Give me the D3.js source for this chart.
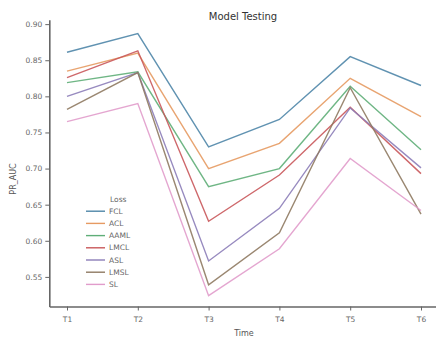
<!DOCTYPE html>
<html>
<head>
<meta charset="utf-8">
<script src="https://cdn.jsdelivr.net/npm/d3@7"></script>
<style>
  body { margin: 0; background: #fff; }
  svg { display: block; font-family: "DejaVu Sans", sans-serif; }
</style>
</head>
<body>
<div id="chart"></div>
<script>
// time points on the x axis
const times = ["T1", "T2", "T3", "T4", "T5", "T6"];
// loss names, in legend order
const losses = ["FCL", "ACL", "AAML", "LMCL", "ASL", "LMSL", "SL"];
// PR_AUC per loss, one value per time point
const FCL  = [0.861, 0.887, 0.730, 0.768, 0.855, 0.815];
const ACL  = [0.835, 0.860, 0.700, 0.735, 0.825, 0.772];
const AAML = [0.819, 0.834, 0.675, 0.700, 0.814, 0.726];
const LMCL = [0.826, 0.863, 0.627, 0.691, 0.785, 0.693];
const ASL  = [0.800, 0.833, 0.572, 0.645, 0.784, 0.701];
const LMSL = [0.782, 0.833, 0.539, 0.611, 0.812, 0.637];
const SL   = [0.765, 0.790, 0.524, 0.589, 0.714, 0.642];
const yTicks = [0.55, 0.60, 0.65, 0.70, 0.75, 0.80, 0.85, 0.90];

const seriesVals = [FCL, ACL, AAML, LMCL, ASL, LMSL, SL];
const colorList = ["#4f86a8", "#e69a62", "#5fae78", "#c9585b", "#8c7db8", "#8f7a62", "#e19ccb"];

const width = 436, height = 340;
const svg = d3.select("#chart").append("svg")
    .attr("width", width).attr("height", height);

const x = d3.scaleLinear().domain([-0.25, times.length - 0.75]).range([49.3, 438.7]);
const y = d3.scaleLinear().domain([0.509, 0.906]).range([306.5, 19.8]);
const color = d3.scaleOrdinal().domain(losses).range(colorList);

// axes
const axisX = svg.append("g")
    .attr("transform", `translate(0,${y.range()[0]})`)
    .call(d3.axisBottom(x).tickValues(d3.range(times.length))
        .tickFormat(i => times[i]).tickSize(4).tickSizeOuter(0));
const axisY = svg.append("g")
    .attr("transform", `translate(${x.range()[0]},0)`)
    .call(d3.axisLeft(y).tickValues(yTicks).tickFormat(d3.format(".2f"))
        .tickSize(4).tickSizeOuter(0));
[axisX, axisY].forEach(g => {
    g.select(".domain").attr("stroke", "#666").attr("stroke-width", 1.6);
    g.selectAll(".tick line").attr("stroke", "#666").attr("stroke-width", 1);
    g.selectAll(".tick text").attr("fill", "#666")
        .style("font-size", "7.5px").style("font-family", "DejaVu Sans, sans-serif");
});
axisX.selectAll(".tick text").attr("dy", "1.1em");

// lines
const line = d3.line().x((d, i) => x(i)).y(d => y(d));
losses.forEach((name, k) => {
    svg.append("path")
        .datum(seriesVals[k])
        .attr("d", line)
        .attr("fill", "none")
        .attr("stroke", color(name))
        .attr("stroke-opacity", 0.9)
        .attr("stroke-width", 1.4)
        .attr("stroke-linejoin", "miter");
});

// title and axis labels
svg.append("text")
    .attr("x", 243).attr("y", 20)
    .attr("text-anchor", "middle")
    .style("font-size", "10px").attr("fill", "#333")
    .text("Model Testing");
svg.append("text")
    .attr("x", 244).attr("y", 336)
    .attr("text-anchor", "middle")
    .style("font-size", "8px").attr("fill", "#555")
    .text("Time");
svg.append("text")
    .attr("transform", "translate(16,179) rotate(-90)")
    .attr("text-anchor", "middle")
    .style("font-size", "8px").attr("fill", "#555")
    .text("PR_AUC");

// legend
const legend = svg.append("g").attr("transform", "translate(86,199)");
legend.append("text")
    .attr("x", 24).attr("y", 0).attr("dy", "0.35em")
    .style("font-size", "7.5px").attr("fill", "#666")
    .text("Loss");
losses.forEach((name, k) => {
    const row = legend.append("g").attr("transform", `translate(0,${12.2 * (k + 1)})`);
    row.append("line")
        .attr("x1", 0).attr("x2", 19)
        .attr("stroke", color(name)).attr("stroke-width", 1.4);
    row.append("text")
        .attr("x", 23).attr("dy", "0.35em")
        .style("font-size", "7.5px").attr("fill", "#666")
        .text(name);
});
</script>
</body>
</html>
